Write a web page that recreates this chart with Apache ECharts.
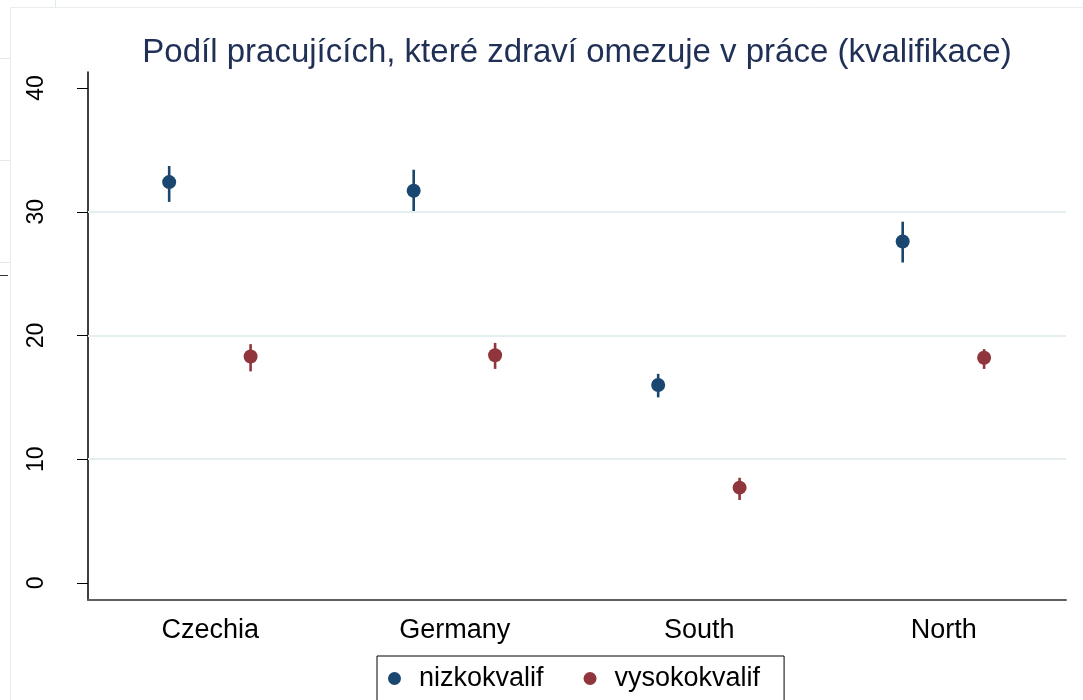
<!DOCTYPE html>
<html>
<head>
<meta charset="utf-8">
<title>Podíl pracujících</title>
<script src="https://cdn.jsdelivr.net/npm/echarts@6/dist/echarts.min.js"></script>
<style>
  html, body { margin: 0; padding: 0; background: #ffffff; }
  #chart { width: 1083px; height: 700px; }
</style>
</head>
<body>
<div id="chart"></div>
<script>
// categories and values
const categories = ["Czechia", "Germany", "South", "North"];
const yTicks = [0, 10, 20, 30, 40];
const gridValues = [10, 20, 30];

// nizkokvalif: mean and interval
const nizkoMean = [32.4, 31.7, 16.0, 27.6];
const nizkoLow = [30.8, 29.9, 15.0, 25.9];
const nizkoHigh = [33.7, 33.4, 16.9, 29.2];

// vysokokvalif: mean and interval
const vysokoMean = [18.3, 18.4, 7.7, 18.2];
const vysokoLow = [17.1, 17.3, 6.7, 17.3];
const vysokoHigh = [19.3, 19.4, 8.5, 18.9];

const navy = "#1a476f";
const maroon = "#90353b";
const font = "Liberation Sans, Arial, sans-serif";

function rows(mean, low, high) {
  return categories.map((c, i) => [i, mean[i], low[i], high[i]]);
}

// dot + vertical error bar, shifted inside the category band
function dotWithBar(shift, color) {
  return function (params, api) {
    const band = api.size([1, 0])[0];
    const dx = shift * band;
    const mid = api.coord([api.value(0), api.value(1)]);
    const lo = api.coord([api.value(0), api.value(2)]);
    const hi = api.coord([api.value(0), api.value(3)]);
    return {
      type: "group",
      children: [
        {
          type: "line",
          shape: { x1: mid[0] + dx, y1: lo[1], x2: mid[0] + dx, y2: hi[1] },
          style: { stroke: color, lineWidth: 2.6 }
        },
        {
          type: "circle",
          shape: { cx: mid[0] + dx, cy: mid[1], r: 7 },
          style: { fill: color }
        }
      ]
    };
  };
}

var chart = echarts.init(document.getElementById("chart"));

chart.setOption({
  backgroundColor: "#ffffff",
  animation: false,
  title: {
    text: "Podíl pracujících, které zdraví omezuje v práce (kvalifikace)",
    left: 572,
    textAlign: "center",
    top: 31,
    textStyle: { fontFamily: font, fontSize: 33, fontWeight: "normal", color: "#1f2f55" }
  },
  legend: {
    left: 377,
    top: 656,
    orient: "horizontal",
    padding: [9, 24, 20, 11],
    borderColor: "#000000",
    borderWidth: 1,
    itemWidth: 13,
    itemHeight: 13,
    itemGap: 40,
    textStyle: { fontFamily: font, fontSize: 27, color: "#000000", padding: [0, 0, 0, 13] },
    data: [
      { name: "nizkokvalif", icon: "circle" },
      { name: "vysokokvalif", icon: "circle" }
    ]
  },
  grid: { left: 88, right: 17, top: 72, bottom: 100 },
  xAxis: {
    type: "category",
    data: categories,
    boundaryGap: true,
    axisLine: { onZero: false, lineStyle: { color: "#5f5f5f", width: 2 } },
    axisTick: { alignWithLabel: true, length: 10, lineStyle: { color: "#222222", width: 1 } },
    axisLabel: { fontFamily: font, fontSize: 27, color: "#000000", margin: 17 },
    splitLine: { show: false }
  },
  yAxis: {
    type: "value",
    min: -1.38,
    max: 41.3,
    axisLine: { show: true, onZero: false, lineStyle: { color: "#000000", width: 1.5 } },
    axisTick: { show: true, length: 11, customValues: yTicks, lineStyle: { color: "#000000", width: 1 } },
    axisLabel: {
      customValues: yTicks,
      rotate: 90,
      fontFamily: font,
      fontSize: 23,
      color: "#000000",
      margin: 40
    },
    splitLine: { show: false }
  },
  series: [
    {
      name: "grid",
      type: "line",
      data: [],
      z: 1,
      silent: true,
      markLine: {
        silent: true,
        symbol: "none",
        label: { show: false },
        lineStyle: { color: "#e4eef0", width: 2, type: "solid" },
        data: gridValues.map(v => ({ yAxis: v }))
      }
    },
    {
      name: "nizkokvalif",
      type: "custom",
      z: 3,
      itemStyle: { color: navy },
      renderItem: dotWithBar(-0.168, navy),
      encode: { x: 0, y: 1 },
      data: rows(nizkoMean, nizkoLow, nizkoHigh)
    },
    {
      name: "vysokokvalif",
      type: "custom",
      z: 3,
      itemStyle: { color: maroon },
      renderItem: dotWithBar(0.165, maroon),
      encode: { x: 0, y: 1 },
      data: rows(vysokoMean, vysokoLow, vysokoHigh)
    }
  ],
  graphic: [
    // outer panel edge seen around the reference
    { type: "rect", shape: { x: 10.5, y: 7.5, width: 1090, height: 700 }, style: { fill: "none", stroke: "#e8edef", lineWidth: 1 }, z: -1 },
    { type: "line", shape: { x1: 0, y1: 58.5, x2: 10, y2: 58.5 }, style: { stroke: "#e3eaec", lineWidth: 1 } },
    { type: "line", shape: { x1: 0, y1: 160.5, x2: 10, y2: 160.5 }, style: { stroke: "#e3eaec", lineWidth: 1 } },
    { type: "line", shape: { x1: 0, y1: 262.5, x2: 10, y2: 262.5 }, style: { stroke: "#e3eaec", lineWidth: 1 } },
    { type: "line", shape: { x1: 0, y1: 275.5, x2: 8, y2: 275.5 }, style: { stroke: "#333333", lineWidth: 1 } },
    { type: "line", shape: { x1: 55.5, y1: 0, x2: 55.5, y2: 7 }, style: { stroke: "#e3eaec", lineWidth: 1 } }
  ]
});
</script>
</body>
</html>
